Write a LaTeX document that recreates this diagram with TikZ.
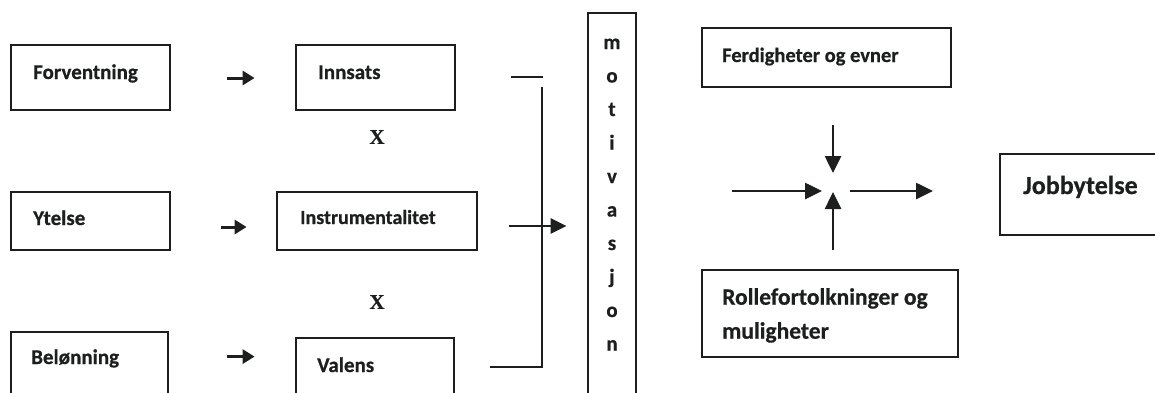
\documentclass[tikz,border=0pt]{standalone}
\usepackage{fontspec}
\setmainfont{Carlito}[BoldFeatures={FakeBold=0.6}]
\newfontfamily\serifx{Liberation Serif}[BoldFeatures={FakeBold=0.4}]
\usetikzlibrary{arrows.meta,calc,fit}
\definecolor{ink}{RGB}{28,31,29}

\tikzset{
  box/.style={draw=ink, line width=2.8pt, rectangle, inner sep=0pt},
  lbl/.style={text=ink, inner sep=0pt, anchor=base west,
              font=\bfseries\fontsize{21}{25}\selectfont},
  letter/.style={text=ink, inner sep=0pt, anchor=base,
              font=\bfseries\fontsize{21}{25}\selectfont},
  times/.style={text=ink, inner sep=0pt,
              font=\serifx\bfseries\fontsize{21}{25}\selectfont},
  arrS/.style={draw=ink, line width=3pt, -{Triangle[length=12pt,width=14pt]}},
  arrM/.style={draw=ink, line width=2.4pt, -{Triangle[length=16pt,width=15pt]}},
  arrL/.style={draw=ink, line width=2.6pt, -{Triangle[length=17pt,width=16pt]}},
  bar/.style={draw=ink, line width=2.6pt},
}

\begin{document}
\begin{tikzpicture}[x=1pt,y=-1pt]
\useasboundingbox (0,0) rectangle (1155,392);
\clip (0,0) rectangle (1155,392);

% left column: inputs
\node[box, fit={(11,45) (170,110)}]  (forv) {};
\node[box, fit={(11,192) (170,250)}] (ytel) {};
\node[box, fit={(11,332) (168,400)}] (belo) {};
\node[lbl] (tforv) at (33,79)  {Forventning};
\node[lbl] (tytel) at (33,225) {Ytelse};
\node[lbl] (tbelo) at (31,364) {Belønning};

% middle column: factors
\node[box, fit={(296,45) (455,110)}]  (inns)  {};
\node[box, fit={(277,192) (477,250)}] (instr) {};
\node[box, fit={(296,338) (454,400)}] (vale)  {};
\node[lbl] (tinns)  at (318,79)  {Innsats};
\node[lbl, font=\bfseries\fontsize{20}{24}\selectfont] (tinstr) at (300,224) {Instrumentalitet};
\node[lbl] (tvale)  at (317,372) {Valens};

\node[times] (x1) at (377,137) {X};
\node[times] (x2) at (377,302) {X};

\draw[arrS] ($(forv.east)+(56,0.5)$) -- ($(inns.west)+(-40,0.5)$);
\draw[arrS] ($(ytel.east)+(50,6)$)   -- ($(instr.west)+(-29,6)$);
\draw[arrS] ($(belo.north east)+(58,26)$) -- ($(vale.north west)+(-40,20)$);

% bracket joining the three factors
\coordinate (brT) at (542,87);
\coordinate (brB) at (542,367);
\draw[bar] ($(inns.east)+(55,-0.5)$) -- ($(brT)+(1,-10)$);
\draw[bar] (brT) -- (brB) -- ($(brB)+(-52,0)$);

% motivation column
\node[box, fit={(588,13) (636,400)}] (moti) {};
\foreach \c [count=\i from 0] in {m,o,t,i,v,a,s,j,o,n}
  \node[letter] (mot\i) at (612,{49+33.5*\i}) {\c};

\draw[arrM] ($(instr.east)+(31,5)$) -- ($(moti.west |- instr.east)+(-20,5)$);

% right side: ability, role and performance
\node[box, fit={(702,28) (951,87)}]    (ferd) {};
\node[box, fit={(702,270) (958,357)}]  (roll) {};
\node[box, fit={(1000,154) (1170,235)}] (jobb) {};
\node[lbl, font=\bfseries\fontsize{20.5}{24}\selectfont] (tferd) at (722,62) {Ferdigheter og evner};
\node[lbl, font=\bfseries\fontsize{23.5}{34}\selectfont, align=left, anchor=north west]
  (troll) at (722,288) {Rollefortolkninger og\\muligheter};
\node[lbl, font=\bfseries\fontsize{26}{30}\selectfont] (tjobb) at (1023,194) {Jobbytelse};

\coordinate (hub) at (833,191);
\draw[arrL] ($(hub)+(-101,0)$) -- ($(hub)+(-11,0)$);
\draw[arrL] ($(hub)+(17,0)$)   -- ($(hub)+(100,0)$);
\draw[arrL] ($(hub)+(0,-66)$)  -- ($(hub)+(0,-18)$);
\draw[arrL] ($(hub)+(0,59)$)   -- ($(hub)+(0,1)$);
\end{tikzpicture}
\end{document}
